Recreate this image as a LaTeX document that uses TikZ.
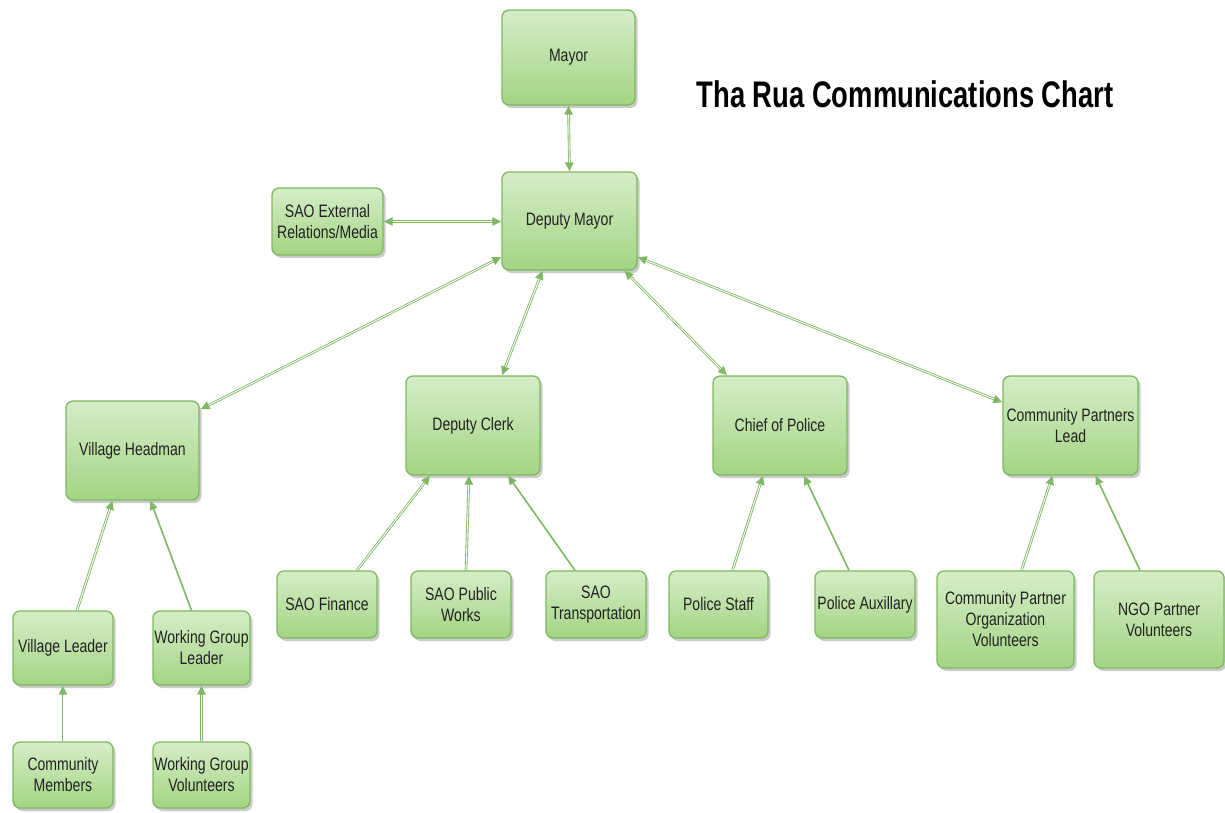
\documentclass[tikz,border=0pt]{standalone}
\usepackage{fontspec}
\setmainfont{Liberation Sans}[FakeStretch=0.78]
\newfontfamily\titlefont{Liberation Sans}[FakeStretch=0.74]
\usetikzlibrary{shadows,arrows.meta,calc}
\definecolor{boxtop}{HTML}{D6EDC8}
\definecolor{boxbot}{HTML}{A3D483}
\definecolor{boxline}{HTML}{7DB95F}
\definecolor{conn}{HTML}{7FB865}
\definecolor{txt}{HTML}{222222}
\tikzset{
  box/.style={draw=boxline, line width=1.3pt, rounded corners=7pt,
    top color=boxtop, bottom color=boxbot, align=center, text=txt,
    font=\fontsize{18}{21}\selectfont, inner sep=0pt,
    drop shadow={shadow xshift=2.5pt, shadow yshift=-3pt, fill=black!45, opacity=0.45}},
  twin/.style={draw=conn, line width=2.6pt},
  twinin/.style={draw=white, line width=0.9pt},
  tip/.style={-{Triangle[length=9pt,width=8pt]}},
  tips/.style={{Triangle[length=9pt,width=8pt]}-{Triangle[length=9pt,width=8pt]}},
  single/.style={draw=conn, line width=1.6pt, -{Triangle[length=9pt,width=8pt]}}
}
% double-line connector, both ends with tips
\newcommand\bothconn[2]{%
  \draw[twin,tips] #1 -- #2;
  \draw[twinin,shorten <=9pt,shorten >=9pt] #1 -- #2;}
\newcommand\oneconn[2]{%
  \draw[twin,tip] #1 -- #2;
  \draw[twinin,shorten >=9pt] #1 -- #2;}
\begin{document}
\begin{tikzpicture}[x=1pt,y=-1pt]
\useasboundingbox (0,0) rectangle (1225,812);
\fill[white] (0,0) rectangle (1225,812);
% boxes: centre, width, height
\node[box, minimum width=133pt, minimum height=95pt] (mayor) at (568.5,57.5) {Mayor};
\node[box, minimum width=135pt, minimum height=98pt] (dm) at (569.5,221) {Deputy Mayor};
\node[box, minimum width=111pt, minimum height=67pt] (ext) at (327.5,221.5) {SAO External\\Relations/Media};
\node[box, minimum width=133pt, minimum height=99pt] (vh) at (132.5,450.5) {Village Headman};
\node[box, minimum width=134pt, minimum height=99pt] (dc) at (473,425.5) {Deputy Clerk};
\node[box, minimum width=134pt, minimum height=99pt] (cp) at (780,425.5) {Chief of Police};
\node[box, minimum width=135pt, minimum height=99pt] (cpl) at (1070.5,425.5) {Community Partners\\Lead};
\node[box, minimum width=100pt, minimum height=74pt] (vl) at (63,648) {Village Leader};
\node[box, minimum width=97pt, minimum height=74pt] (wgl) at (201.5,648) {Working Group\\Leader};
\node[box, minimum width=100pt, minimum height=66pt] (cm) at (63,775) {Community\\Members};
\node[box, minimum width=97pt, minimum height=66pt] (wgv) at (201.5,775) {Working Group\\Volunteers};
\node[box, minimum width=100pt, minimum height=67pt] (fin) at (327,604.5) {SAO Finance};
\node[box, minimum width=100pt, minimum height=67pt] (pw) at (461,604.5) {SAO Public\\Works};
\node[box, minimum width=100pt, minimum height=67pt] (tr) at (596,604.5) {SAO\\Transportation};
\node[box, minimum width=99pt, minimum height=67pt] (ps) at (718.5,604.5) {Police Staff};
\node[box, minimum width=100pt, minimum height=67pt] (pa) at (865,604.5) {Police Auxillary};
\node[box, minimum width=137pt, minimum height=97pt] (cpov) at (1005.5,619.5) {Community Partner\\Organization\\Volunteers};
\node[box, minimum width=130pt, minimum height=97pt] (ngo) at (1159,619.5) {NGO Partner\\Volunteers};
% title
\node[font=\titlefont\bfseries\fontsize{37}{40}\selectfont, text=black, anchor=base] (title) at (905,107) {Tha Rua Communications Chart};
% connectors
\bothconn{(mayor.south)}{(dm.north)}
\bothconn{(ext.east)}{(ext.east -| dm.west)}
\bothconn{([yshift=-36pt]dm.west)}{([yshift=-9pt,xshift=1pt]vh.north east)}
\bothconn{([xshift=-27pt]dm.south)}{([xshift=29pt]dc.north)}
\bothconn{([xshift=55pt]dm.south)}{([xshift=-53pt]cp.north)}
\bothconn{([yshift=-36pt]dm.east)}{([yshift=-27pt]cpl.north west)}
\oneconn{([xshift=14pt]vl.north)}{([xshift=-20pt]vh.south)}
\draw[single] ([xshift=-10pt]wgl.north) -- ([xshift=18pt]vh.south);
\oneconn{(cm.north)}{(vl.south)}
\oneconn{(wgv.north)}{(wgl.south)}
\oneconn{([xshift=30pt]fin.north)}{([xshift=-43pt]dc.south)}
\oneconn{([xshift=5pt]pw.north)}{([xshift=-4pt]dc.south)}
\draw[single] ([xshift=-21pt]tr.north) -- ([xshift=35pt]dc.south);
\oneconn{([xshift=14pt]ps.north)}{([xshift=-17pt]cp.south)}
\draw[single] ([xshift=-16pt]pa.north) -- ([xshift=24pt]cp.south);
\oneconn{([xshift=16pt]cpov.north)}{([xshift=-18pt]cpl.south)}
\draw[single] ([xshift=-19pt]ngo.north) -- ([xshift=25pt]cpl.south);
\end{tikzpicture}
\end{document}
